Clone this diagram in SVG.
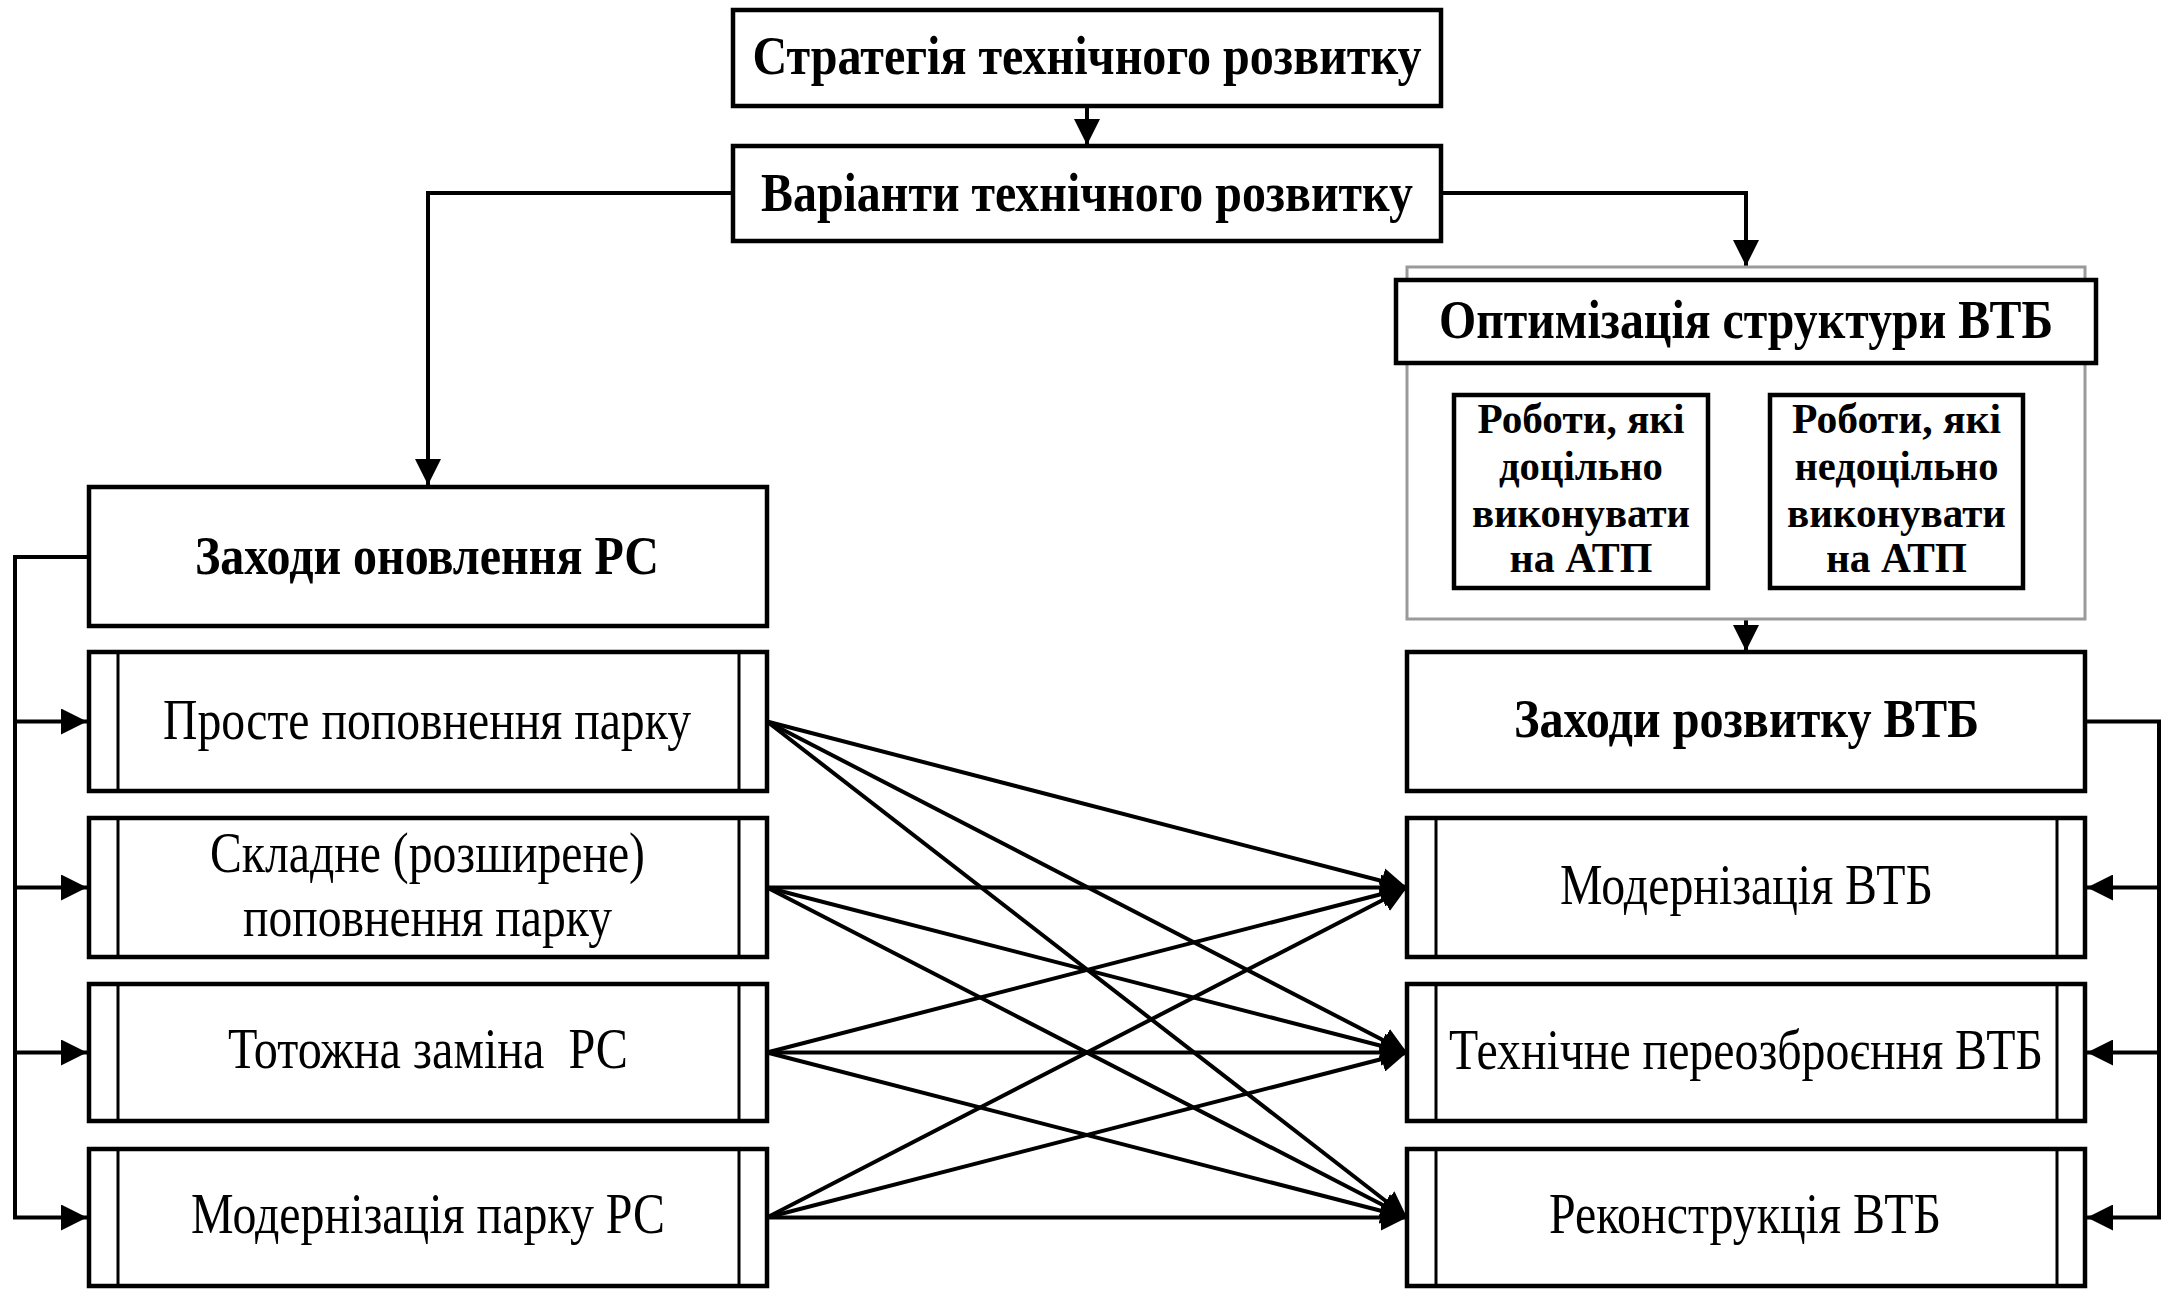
<svg xmlns="http://www.w3.org/2000/svg" width="2164" height="1289" viewBox="0 0 2164 1289">
<style>
.box{fill:#fff;stroke:#000;stroke-width:4.5}
.gray{fill:#fff;stroke:#9a9a9a;stroke-width:3}
.in{fill:none;stroke:#000;stroke-width:3}
.c{fill:none;stroke:#000;stroke-width:4}
.b{font-family:"Liberation Serif","Times New Roman",serif;font-weight:bold;font-size:54px;text-anchor:middle;fill:#000}
.s{font-family:"Liberation Serif","Times New Roman",serif;font-weight:bold;font-size:43px;text-anchor:middle;fill:#000}
.r{font-family:"Liberation Serif","Times New Roman",serif;font-size:57px;text-anchor:middle;fill:#000}
</style>
<defs>
<marker id="arr" markerUnits="userSpaceOnUse" markerWidth="26" markerHeight="26" refX="26" refY="13" orient="auto" viewBox="0 0 26 26"><path d="M0,0 L26,13 L0,26 Z" fill="#000"/></marker>
<marker id="arrS" markerUnits="userSpaceOnUse" markerWidth="18" markerHeight="26" refX="18" refY="13" orient="auto-start-reverse" viewBox="0 0 18 26"><path d="M0,0 L18,13 L0,26 Z" fill="#000"/></marker>
</defs>
<rect width="2164" height="1289" fill="#fff"/>

<g id="connectors">
<path class="c" d="M1087,106 V145" marker-end="url(#arr)"/>
<path class="c" d="M733,193 H428 V485" marker-end="url(#arr)"/>
<path class="c" d="M1441,193 H1746 V266" marker-end="url(#arr)"/>
<path class="c" d="M1746,620 V651" marker-end="url(#arr)"/>
<path class="c" d="M1710,492 H1768" marker-start="url(#arrS)" marker-end="url(#arrS)"/>
<path class="c" d="M89,557 H15 V1217.5 H87" marker-end="url(#arr)"/>
<path class="c" d="M15,721.5 H87" marker-end="url(#arr)"/>
<path class="c" d="M15,887.5 H87" marker-end="url(#arr)"/>
<path class="c" d="M15,1052.5 H87" marker-end="url(#arr)"/>
<path class="c" d="M2085,721.5 H2159 V1217.5 H2087" marker-end="url(#arr)"/>
<path class="c" d="M2159,887.5 H2087" marker-end="url(#arr)"/>
<path class="c" d="M2159,1052.5 H2087" marker-end="url(#arr)"/>
<g marker-end="url(#arr)">
<path class="c" d="M767,721.5 L1407,887.5"/>
<path class="c" d="M767,721.5 L1407,1052.5"/>
<path class="c" d="M767,721.5 L1407,1217.5"/>
<path class="c" d="M767,887.5 L1407,887.5"/>
<path class="c" d="M767,887.5 L1407,1052.5"/>
<path class="c" d="M767,887.5 L1407,1217.5"/>
<path class="c" d="M767,1052.5 L1407,887.5"/>
<path class="c" d="M767,1052.5 L1407,1052.5"/>
<path class="c" d="M767,1052.5 L1407,1217.5"/>
<path class="c" d="M767,1217.5 L1407,887.5"/>
<path class="c" d="M767,1217.5 L1407,1052.5"/>
<path class="c" d="M767,1217.5 L1407,1217.5"/>
</g>
</g>

<g id="strategy">
<rect class="box" x="733" y="10" width="708" height="96"/>
<text class="b" x="1087" y="74" textLength="669" lengthAdjust="spacingAndGlyphs">Стратегія технічного розвитку</text>
</g>
<g id="variants">
<rect class="box" x="733" y="146" width="708" height="95"/>
<text class="b" x="1087" y="211" textLength="652" lengthAdjust="spacingAndGlyphs">Варіанти технічного розвитку</text>
</g>

<g id="optimization-group">
<rect class="gray" x="1407" y="267" width="678" height="352"/>
</g>
<g id="optimization">
<rect class="box" x="1396" y="280" width="700" height="83"/>
<text class="b" x="1746" y="338" textLength="614" lengthAdjust="spacingAndGlyphs">Оптимізація структури ВТБ</text>
</g>
<g id="works-expedient">
<rect class="box" x="1454" y="395" width="254" height="193"/>
<text class="s" x="1581" y="433" textLength="207" lengthAdjust="spacingAndGlyphs">Роботи, які</text>
<text class="s" x="1581" y="480" textLength="164" lengthAdjust="spacingAndGlyphs">доцільно</text>
<text class="s" x="1581" y="527" textLength="218" lengthAdjust="spacingAndGlyphs">виконувати</text>
<text class="s" x="1581" y="572" textLength="143" lengthAdjust="spacingAndGlyphs">на АТП</text>
</g>
<g id="works-inexpedient">
<rect class="box" x="1770" y="395" width="253" height="193"/>
<text class="s" x="1896.5" y="433" textLength="209" lengthAdjust="spacingAndGlyphs">Роботи, які</text>
<text class="s" x="1896.5" y="480" textLength="204" lengthAdjust="spacingAndGlyphs">недоцільно</text>
<text class="s" x="1896.5" y="527" textLength="219" lengthAdjust="spacingAndGlyphs">виконувати</text>
<text class="s" x="1896.5" y="572" textLength="141" lengthAdjust="spacingAndGlyphs">на АТП</text>
</g>

<g id="rs-measures">
<rect class="box" x="89" y="487" width="678" height="139"/>
<text class="b" x="427" y="574" textLength="464" lengthAdjust="spacingAndGlyphs">Заходи оновлення РС</text>
</g>
<g id="rs-simple">
<rect class="box" x="89" y="652" width="678" height="139"/>
<path class="in" d="M118,652 V791 M739,652 V791"/>
<text class="r" x="427" y="739" textLength="528" lengthAdjust="spacingAndGlyphs">Просте поповнення парку</text>
</g>
<g id="rs-extended">
<rect class="box" x="89" y="818" width="678" height="139"/>
<path class="in" d="M118,818 V957 M739,818 V957"/>
<text class="r" x="427.5" y="872" textLength="435" lengthAdjust="spacingAndGlyphs">Складне (розширене)</text>
<text class="r" x="427.5" y="936" textLength="369" lengthAdjust="spacingAndGlyphs">поповнення парку</text>
</g>
<g id="rs-identical">
<rect class="box" x="89" y="984" width="678" height="137"/>
<path class="in" d="M118,984 V1121 M739,984 V1121"/>
<text class="r" x="428" y="1068" textLength="400" lengthAdjust="spacingAndGlyphs" xml:space="preserve">Тотожна заміна  РС</text>
</g>
<g id="rs-modern">
<rect class="box" x="89" y="1149" width="678" height="137"/>
<path class="in" d="M118,1149 V1286 M739,1149 V1286"/>
<text class="r" x="428" y="1233" textLength="474" lengthAdjust="spacingAndGlyphs">Модернізація парку РС</text>
</g>

<g id="vtb-measures">
<rect class="box" x="1407" y="652" width="678" height="139"/>
<text class="b" x="1746.5" y="737" textLength="465" lengthAdjust="spacingAndGlyphs">Заходи розвитку ВТБ</text>
</g>
<g id="vtb-modern">
<rect class="box" x="1407" y="818" width="678" height="139"/>
<path class="in" d="M1436,818 V957 M2057,818 V957"/>
<text class="r" x="1746.5" y="904" textLength="373" lengthAdjust="spacingAndGlyphs">Модернізація ВТБ</text>
</g>
<g id="vtb-reequip">
<rect class="box" x="1407" y="984" width="678" height="137"/>
<path class="in" d="M1436,984 V1121 M2057,984 V1121"/>
<text class="r" x="1746" y="1069" textLength="594" lengthAdjust="spacingAndGlyphs">Технічне переозброєння ВТБ</text>
</g>
<g id="vtb-reconstr">
<rect class="box" x="1407" y="1149" width="678" height="137"/>
<path class="in" d="M1436,1149 V1286 M2057,1149 V1286"/>
<text class="r" x="1745" y="1233" textLength="392" lengthAdjust="spacingAndGlyphs">Реконструкція ВТБ</text>
</g>
</svg>
